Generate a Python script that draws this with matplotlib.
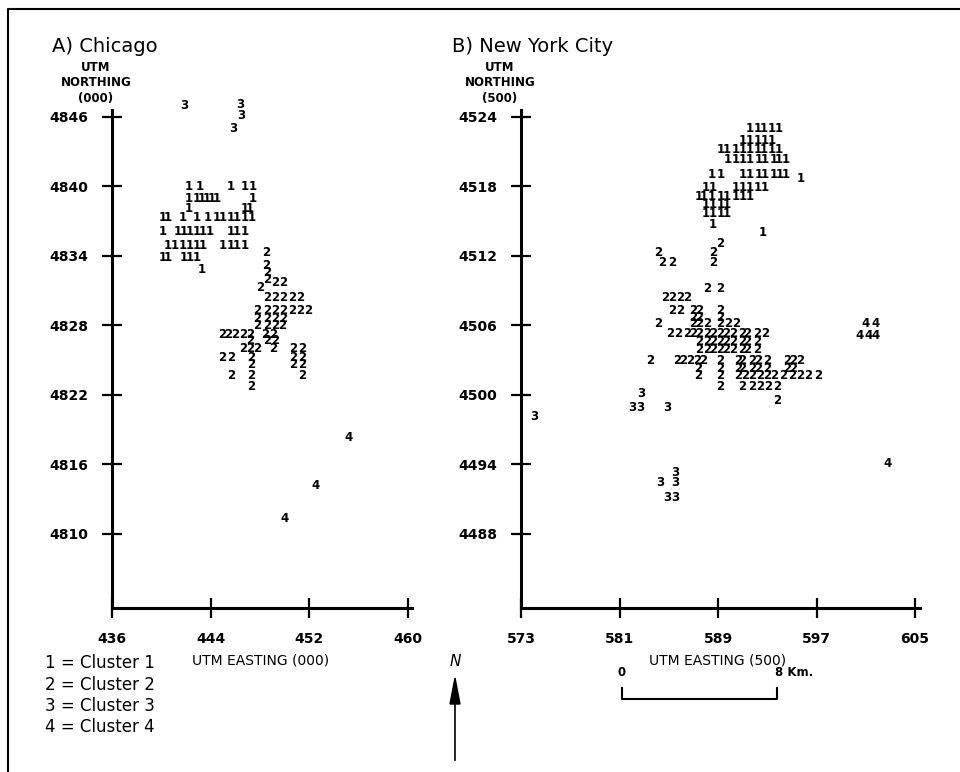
import matplotlib
matplotlib.use('Agg')
import matplotlib.pyplot as plt
from matplotlib.lines import Line2D

# ---- data (UTM easting / northing) ----

# A) Chicago
chi_xticks = [436, 444, 452, 460]
chi_yticks = [4846, 4840, 4834, 4828, 4822, 4816, 4810]

chi_c1_north = [4840.0, 4839.0, 4838.1, 4837.3, 4836.1, 4834.9, 4833.9, 4832.8]
chi_c1_east = [
    [442.2, 443.1, 445.6, 446.8, 447.4],
    [442.2, 442.9, 443.3, 443.7, 444.1, 444.5, 447.4],
    [442.2, 446.8, 447.2],
    [440.1, 440.5, 441.7, 442.9, 443.8, 444.5, 445.0, 445.6, 446.1, 446.8, 447.3],
    [440.1, 441.3, 441.8, 442.3, 442.9, 443.4, 443.9, 445.6, 446.1, 446.8],
    [440.5, 441.1, 441.7, 442.3, 442.9, 443.4, 445.0, 445.6, 446.1, 446.8],
    [440.1, 440.5, 441.8, 442.3, 442.9],
    [443.3],
]

chi_c2_north = [4834.3, 4833.2, 4832.6, 4832.0, 4831.7, 4831.3, 4830.4, 4829.3,
                4828.6, 4828.0, 4827.2, 4826.7, 4826.0, 4825.2, 4824.6, 4823.7, 4822.7]
chi_c2_east = [
    [448.5],
    [448.5],
    [448.6],
    [448.6],
    [449.2, 449.9],
    [448.0],
    [448.6, 449.2, 449.9, 450.6, 451.3],
    [447.8, 448.6, 449.2, 449.9, 450.6, 451.3, 451.9],
    [447.8, 448.6, 449.2, 449.9],
    [447.8, 448.6, 449.2, 449.8],
    [444.9, 445.4, 446.0, 446.6, 447.2, 448.4, 449.1],
    [447.2, 448.6, 449.2],
    [446.6, 447.2, 447.8, 449.1, 450.7, 451.4],
    [444.9, 445.7, 447.3, 450.7, 451.4],
    [447.3, 450.7, 451.4],
    [445.7, 447.3, 451.4],
    [447.3],
]

chi_c3_east = [441.9, 446.4, 446.5, 445.8]
chi_c3_north = [4847.0, 4847.1, 4846.1, 4845.0]

chi_c4_east = [455.2, 452.5, 450.0]
chi_c4_north = [4818.3, 4814.2, 4811.3]

# B) New York City
nyc_xticks = [573, 581, 589, 597, 605]
nyc_yticks = [4524, 4518, 4512, 4506, 4500, 4494, 4488]

nyc_c1_north = [4523.0, 4522.0, 4521.2, 4520.3, 4519.0, 4518.7, 4517.9, 4517.1,
                4516.4, 4515.7, 4514.7, 4514.0]
nyc_c1_east = [
    [591.6, 592.2, 592.7, 593.4, 593.9],
    [591.0, 591.6, 592.2, 592.8, 593.4],
    [589.2, 589.7, 590.4, 591.0, 591.6, 592.2, 592.7, 593.4, 593.9],
    [589.8, 590.4, 591.0, 591.6, 592.3, 592.8, 593.5, 593.9, 594.5],
    [588.5, 589.2, 591.0, 591.6, 592.3, 592.8, 593.5, 594.0, 594.5],
    [595.7],
    [588.0, 588.6, 590.4, 591.0, 591.6, 592.2, 592.8],
    [587.4, 587.8, 588.5, 589.2, 589.7, 590.4, 591.0, 591.6],
    [588.0, 588.6, 589.2, 589.7],
    [588.0, 588.6, 589.2, 589.7],
    [588.6],
    [592.6],
]

nyc_c2_north = [4513.1, 4512.3, 4511.4, 4509.2, 4508.4, 4507.3, 4506.7, 4506.2,
                4505.3, 4504.6, 4503.9, 4503.0, 4502.3, 4501.7, 4500.7, 4499.5]
nyc_c2_east = [
    [589.2],
    [584.1, 588.6],
    [584.5, 585.3, 588.6],
    [588.1, 589.2],
    [584.7, 585.3, 585.9, 586.5],
    [585.3, 585.9, 587.0, 587.5, 589.2],
    [587.0, 587.5, 589.2],
    [584.1, 587.0, 587.5, 588.1, 589.2, 589.8, 590.5],
    [585.1, 585.8, 586.5, 587.0, 587.5, 588.1, 588.6, 589.2, 589.7, 590.2,
     591.0, 591.4, 592.2, 592.8],
    [587.5, 588.1, 588.6, 589.2, 589.7, 590.2, 591.0, 591.4, 592.2],
    [587.5, 588.1, 588.6, 589.2, 589.7, 590.2, 591.0, 591.4, 592.2],
    [583.5, 585.7, 586.2, 586.7, 587.3, 587.8, 589.2, 590.6, 591.0, 591.8,
     592.3, 593.0, 594.6, 595.1, 595.7],
    [587.4, 589.2, 590.6, 591.0, 591.8, 592.3, 593.0, 594.6, 595.1],
    [587.4, 589.2, 590.6, 591.2, 591.8, 592.4, 593.0, 593.6, 594.3, 595.0,
     595.7, 596.3, 597.1],
    [589.2, 591.0, 591.8, 592.4, 593.1, 593.8],
    [593.8],
]

nyc_c3_east = [574.1, 582.8, 582.0, 582.7, 584.9, 585.5, 584.3, 585.5, 584.9, 585.5]
nyc_c3_north = [4498.1, 4500.1, 4498.9, 4498.9, 4498.9, 4493.3, 4492.4, 4492.4, 4491.1, 4491.1]

nyc_c4_east = [601.0, 601.8, 600.5, 601.2, 601.8, 602.8]
nyc_c4_north = [4506.2, 4506.2, 4505.1, 4505.1, 4505.1, 4494.1]

legend_lines = ['1 = Cluster 1', '2 = Cluster 2', '3 = Cluster 3', '4 = Cluster 4']

# ---- drawing ----

digit_kw = dict(fontsize=8.5, fontweight='bold', ha='center', va='center',
                clip_on=False)


def put_rows(ax, label, norths, easts):
    for n, row in zip(norths, easts):
        for e in row:
            ax.text(e, n, label, **digit_kw)


def put_points(ax, label, easts, norths):
    for e, n in zip(easts, norths):
        ax.text(e, n, label, **digit_kw)


def style_axes(ax, xticks, yticks, xlim, ylim):
    ax.set_xlim(*xlim)
    ax.set_ylim(*ylim)
    for side in ['top', 'right']:
        ax.spines[side].set_visible(False)
    for side in ['left', 'bottom']:
        ax.spines[side].set_linewidth(2.2)
    ax.set_xticks(xticks)
    ax.set_yticks(yticks)
    ax.tick_params(direction='inout', length=14, width=1.6, pad=10)
    for lab in ax.get_xticklabels() + ax.get_yticklabels():
        lab.set_fontsize(10)
        lab.set_fontweight('bold')
    ax.set_facecolor('none')


fig = plt.figure(figsize=(9.6, 7.72), dpi=100)
W, H = 960.0, 772.0

ax1 = fig.add_axes([112 / W, (H - 608) / H, 300 / W, 498 / H])
style_axes(ax1, chi_xticks, chi_yticks, (436, 460.33), (4803.6, 4846.6))
put_rows(ax1, '1', chi_c1_north, chi_c1_east)
put_rows(ax1, '2', chi_c2_north, chi_c2_east)
put_points(ax1, '3', chi_c3_east, chi_c3_north)
put_points(ax1, '4', chi_c4_east, chi_c4_north)

ax2 = fig.add_axes([521 / W, (H - 608) / H, 399 / W, 498 / H])
style_axes(ax2, nyc_xticks, nyc_yticks, (573, 605.4), (4481.6, 4524.6))
put_rows(ax2, '1', nyc_c1_north, nyc_c1_east)
put_rows(ax2, '2', nyc_c2_north, nyc_c2_east)
put_points(ax2, '3', nyc_c3_east, nyc_c3_north)
put_points(ax2, '4', nyc_c4_east, nyc_c4_north)


def fx(px):
    return px / W


def fy(py):
    return 1 - py / H


# panel titles and axis labels
fig.text(fx(52), fy(47), 'A) Chicago', fontsize=14, ha='left', va='center')
fig.text(fx(452), fy(47), 'B) New York City', fontsize=14, ha='left', va='center')
fig.text(fx(96), fy(83), 'UTM\nNORTHING\n(000)', fontsize=8.5, fontweight='bold',
         ha='center', va='center', linespacing=1.25)
fig.text(fx(500), fy(83), 'UTM\nNORTHING\n(500)', fontsize=8.5, fontweight='bold',
         ha='center', va='center', linespacing=1.25)
fig.text(fx(261), fy(660), 'UTM EASTING (000)', fontsize=10, ha='center', va='center')
fig.text(fx(718), fy(660), 'UTM EASTING (500)', fontsize=10, ha='center', va='center')

# legend
for i, line in enumerate(legend_lines):
    fig.text(fx(45), fy(663 + i * 21.5), line, fontsize=12, ha='left', va='center')

# north arrow
fig.text(fx(455), fy(662), 'N', fontsize=11, fontstyle='italic', ha='center', va='center')
fig.add_artist(Line2D([fx(455), fx(455)], [fy(760), fy(690)], color='black', lw=1.2))
fig.patches.append(plt.Polygon([[fx(450), fy(704)], [fx(455), fy(678)], [fx(460), fy(704)]],
                               closed=True, color='black', transform=fig.transFigure))

# scale bar
fig.add_artist(Line2D([fx(622), fx(622), fx(777), fx(777)],
                      [fy(688), fy(699), fy(699), fy(688)], color='black', lw=1.5))
fig.text(fx(622), fy(672), '0', fontsize=8.5, fontweight='bold', ha='center', va='center')
fig.text(fx(775), fy(672), '8 Km.', fontsize=8.5, fontweight='bold', ha='left', va='center')

# scan border
fig.add_artist(Line2D([fx(8), fx(8), fx(960)], [fy(772), fy(9), fy(9)],
                      color='black', lw=1.5))

fig.savefig('out.png', dpi=100, facecolor='white')
